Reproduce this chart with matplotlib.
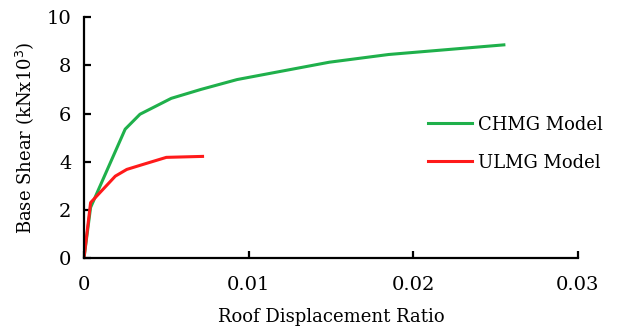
import matplotlib
matplotlib.use("Agg")
import matplotlib.pyplot as plt

chmg_x = [0, 0.0004, 0.0025, 0.0034, 0.0053, 0.0071, 0.0093, 0.0149, 0.0185, 0.0255]
chmg_y = [0, 2.1, 5.35, 5.97, 6.63, 7.0, 7.41, 8.13, 8.45, 8.85]
ulmg_x = [0, 0.0004, 0.0019, 0.0026, 0.0036, 0.0050, 0.0072]
ulmg_y = [0, 2.3, 3.4, 3.68, 3.89, 4.18, 4.22]
x_ticks = [0, 0.01, 0.02, 0.03]
x_tick_labels = ["0", "0.01", "0.02", "0.03"]
y_ticks = [0, 2, 4, 6, 8, 10]

plt.rcParams['font.family'] = ['DejaVu Serif']
fig = plt.figure(figsize=(6.19, 3.30), dpi=100)
ax = fig.add_axes([0.1357, 0.218, 0.798, 0.73])
ax.plot(chmg_x, chmg_y, color="#1fb04b", lw=2.2, label="CHMG Model")
ax.plot(ulmg_x, ulmg_y, color="#ff1a1a", lw=2.2, label="ULMG Model")
ax.set_xlim(0, 0.03)
ax.set_ylim(0, 10)
ax.set_xticks(x_ticks)
ax.set_xticklabels(x_tick_labels)
ax.set_yticks(y_ticks)
for s in ["top", "right"]:
    ax.spines[s].set_visible(False)
for s in ["left", "bottom"]:
    ax.spines[s].set_linewidth(1.6)
ax.tick_params(direction="in", length=5, width=1.6, labelsize=14, pad=9)
ax.tick_params(axis="x", pad=13)
ax.set_xlabel("Roof Displacement Ratio", fontsize=13, labelpad=10)
ax.set_ylabel("Base Shear (kNx10$^3$)", fontsize=13, labelpad=8)
ax.legend(loc="center right", bbox_to_anchor=(1.083, 0.475), frameon=False, fontsize=13,
          handlelength=2.45, handletextpad=0.3, labelspacing=1.1)
fig.savefig("out.png", dpi=100)
